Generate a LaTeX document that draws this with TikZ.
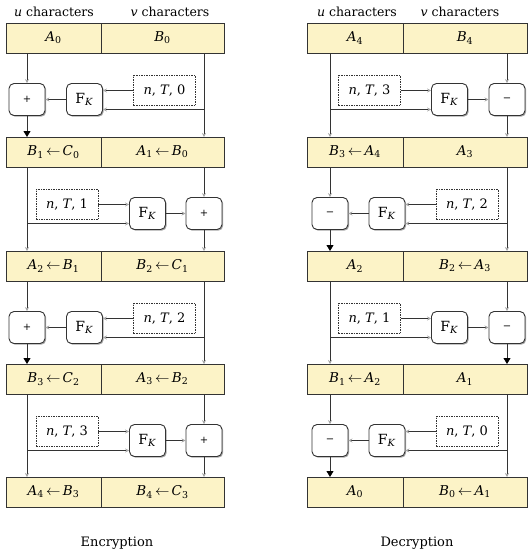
\documentclass[tikz,border=0pt]{standalone}
\usepackage{fontspec}
\setmainfont{DejaVu Serif}
\usetikzlibrary{arrows.meta,shadows}
\definecolor{barfill}{HTML}{FCF3C7}
\definecolor{ln}{HTML}{333333}
\newcommand\vv[2]{\textit{#1}\textsubscript{#2}}
\newcommand\la{\,$\leftarrow$\,}
\newcommand\FK{F\textsubscript{\textit{K}}}
\newcommand\nT[1]{\textit{n}, \textit{T}, #1}
\def\curop{+}
\def\curk{0}
% op on the left column
\newcommand\roundL[9]{%
 \node[opbox] (#1op#2) at (#5,#4+76.5) {\curop};
 \node[fbox] (#1F#2) at (#6,#4+76.5) {\FK};
 \node[nbox] (#1N#2) at (#7,#4+67.5) {\nT{\curk}};
 \coordinate (#1b#2) at (#8,#4+86.5);
 \draw[garrow] (#1op#2 |- #1L#3.south) -- (#1op#2.north);
 \draw[#9] (#1op#2.south) -- (#1op#2 |- #1L#2.north);
 \draw[garrow] (#1F#2.west) -- (#1op#2.east);
 \draw[garrow] (#1N#2.west) -- (#1N#2.west -| #1F#2.east);
 \draw[garrow] (#1b#2 |- #1R#3.south) -- (#1b#2 |- #1R#2.north);
 \draw[garrow] (#1b#2) -- (#1b#2 -| #1F#2.east);
}
% op on the right column
\newcommand\roundR[9]{%
 \node[nbox] (#1N#2) at (#6,#4+67.5) {\nT{\curk}};
 \node[fbox] (#1F#2) at (#7,#4+76.5) {\FK};
 \node[opbox] (#1op#2) at (#8,#4+76.5) {\curop};
 \coordinate (#1b#2) at (#5,#4+86.5);
 \draw[garrow] (#1b#2 |- #1L#3.south) -- (#1b#2 |- #1L#2.north);
 \draw[garrow] (#1b#2) -- (#1b#2 -| #1F#2.west);
 \draw[garrow] (#1N#2.east) -- (#1N#2.east -| #1F#2.west);
 \draw[garrow] (#1F#2.east) -- (#1op#2.west);
 \draw[garrow] (#1op#2 |- #1R#3.south) -- (#1op#2.north);
 \draw[#9] (#1op#2.south) -- (#1op#2 |- #1R#2.north);
}
\begin{document}
\begin{tikzpicture}[x=1pt,y=-1pt,
  every node/.style={font=\fontsize{13.5}{15}\selectfont},
  bar/.style={draw=ln, line width=0.9pt, fill=barfill, minimum height=30pt, inner sep=0pt, outer sep=0pt, anchor=north west},
  opbox/.style={draw=ln, line width=0.9pt, fill=white, rounded corners=5pt, minimum width=36pt, minimum height=32pt, inner sep=0pt,
     drop shadow={shadow xshift=1.2pt, shadow yshift=-1.2pt, opacity=0.35, fill=black}, font=\fontsize{10}{12}\selectfont},
  fbox/.style={opbox, font=\fontsize{14}{16}\selectfont},
  nbox/.style={draw=ln, line width=0.7pt, dash pattern=on 1.5pt off 1pt, fill=white, minimum width=62pt, minimum height=30pt, inner sep=0pt, font=\fontsize{13}{15}\selectfont},
  garrow/.style={draw=ln, line width=0.8pt, -{Stealth[length=4pt,width=4pt,color=gray!70]}},
  barrow/.style={draw=ln, line width=0.8pt, -{Triangle[length=6pt,width=7pt,color=black]}},
  lbl/.style={font=\fontsize{12.5}{14}\selectfont},
  captxt/.style={font=\fontsize{13}{15}\selectfont}
]
\useasboundingbox (0,0) rectangle (532,555);
% headers
\node[lbl] (eh1) at (54,12) {\textit{u} characters};
\node[lbl] (eh2) at (170,12) {\textit{v} characters};
\node[lbl] (dh1) at (357,12) {\textit{u} characters};
\node[lbl] (dh2) at (460,12) {\textit{v} characters};
% encryption bars
\node[bar, minimum width=95pt] (eL0) at (6,23) {\vv{A}{0}};
\node[bar, minimum width=123pt] (eR0) at (101,23) {\vv{B}{0}};
\node[bar, minimum width=95pt] (eL1) at (6,137) {\vv{B}{1}\la\vv{C}{0}};
\node[bar, minimum width=123pt] (eR1) at (101,137) {\vv{A}{1}\la\vv{B}{0}};
\node[bar, minimum width=95pt] (eL2) at (6,251) {\vv{A}{2}\la\vv{B}{1}};
\node[bar, minimum width=123pt] (eR2) at (101,251) {\vv{B}{2}\la\vv{C}{1}};
\node[bar, minimum width=95pt] (eL3) at (6,364) {\vv{B}{3}\la\vv{C}{2}};
\node[bar, minimum width=123pt] (eR3) at (101,364) {\vv{A}{3}\la\vv{B}{2}};
\node[bar, minimum width=95pt] (eL4) at (6,477) {\vv{A}{4}\la\vv{B}{3}};
\node[bar, minimum width=123pt] (eR4) at (101,477) {\vv{B}{4}\la\vv{C}{3}};
% decryption bars
\node[bar, minimum width=96pt] (dL0) at (307,23) {\vv{A}{4}};
\node[bar, minimum width=124pt] (dR0) at (403,23) {\vv{B}{4}};
\node[bar, minimum width=96pt] (dL1) at (307,137) {\vv{B}{3}\la\vv{A}{4}};
\node[bar, minimum width=124pt] (dR1) at (403,137) {\vv{A}{3}};
\node[bar, minimum width=96pt] (dL2) at (307,251) {\vv{A}{2}};
\node[bar, minimum width=124pt] (dR2) at (403,251) {\vv{B}{2}\la\vv{A}{3}};
\node[bar, minimum width=96pt] (dL3) at (307,364) {\vv{B}{1}\la\vv{A}{2}};
\node[bar, minimum width=124pt] (dR3) at (403,364) {\vv{A}{1}};
\node[bar, minimum width=96pt] (dL4) at (307,477) {\vv{A}{0}};
\node[bar, minimum width=124pt] (dR4) at (403,477) {\vv{B}{0}\la\vv{A}{1}};
% encryption rounds
\def\curop{+}
\def\curk{0}\roundL{e}{1}{0}{23}{27}{84.5}{164.5}{204}{barrow}
\def\curk{1}\roundR{e}{2}{1}{137}{27}{67}{147.5}{204}{garrow}
\def\curk{2}\roundL{e}{3}{2}{251}{27}{84.5}{164.5}{204}{barrow}
\def\curk{3}\roundR{e}{4}{3}{364}{27}{67}{147.5}{204}{garrow}
% decryption rounds
\def\curop{−}
\def\curk{3}\roundR{d}{1}{0}{23}{330}{369.5}{449.5}{507}{garrow}
\def\curk{2}\roundL{d}{2}{1}{137}{330}{387}{467}{507}{barrow}
\def\curk{1}\roundR{d}{3}{2}{251}{330}{369.5}{449.5}{507}{barrow}
\def\curk{0}\roundL{d}{4}{3}{364}{330}{387}{467}{507}{barrow}
% captions
\node[captxt] (ecap) at (117,543) {Encryption};
\node[captxt] (dcap) at (417,543) {Decryption};
\end{tikzpicture}
\end{document}
